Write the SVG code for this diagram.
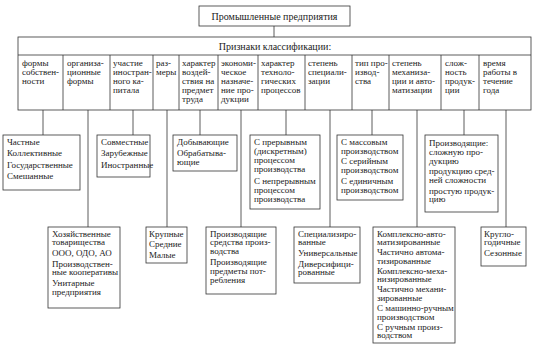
<svg xmlns="http://www.w3.org/2000/svg" width="535" height="353" viewBox="0 0 535 353">
<style>
.bx{fill:#fff;stroke:#333;stroke-width:0.8}
.ln{stroke:#333;stroke-width:0.8;fill:none}
text{font-family:"Liberation Serif","Times New Roman",serif;font-size:9px;fill:#222}
.t{font-size:10px}
</style>
<rect x="0" y="0" width="535" height="353" fill="#fff"/>
<g id="connectors">
<line class="ln" x1="274" y1="26" x2="274" y2="37"/>
<line class="ln" x1="43" y1="110" x2="43" y2="135"/>
<line class="ln" x1="88" y1="110" x2="88" y2="227"/>
<line class="ln" x1="133" y1="110" x2="133" y2="135"/>
<line class="ln" x1="167" y1="110" x2="167" y2="227"/>
<line class="ln" x1="200" y1="110" x2="200" y2="135"/>
<line class="ln" x1="241" y1="110" x2="241" y2="227"/>
<line class="ln" x1="286" y1="110" x2="286" y2="135"/>
<line class="ln" x1="330" y1="110" x2="330" y2="227"/>
<line class="ln" x1="372" y1="110" x2="372" y2="135"/>
<line class="ln" x1="417" y1="110" x2="417" y2="227"/>
<line class="ln" x1="464" y1="110" x2="464" y2="135"/>
<line class="ln" x1="506" y1="110" x2="506" y2="227"/>
</g>
<g id="root">
<rect class="bx" x="199" y="6" width="151" height="20"/>
<text class="t" x="274.5" y="19.5" text-anchor="middle">Промышленные предприятия</text>
</g>
<g id="criteria">
<rect class="bx" x="18" y="37" width="513" height="73"/>
<line class="ln" x1="18" y1="55" x2="531" y2="55"/>
<text class="t" x="275" y="49.5" text-anchor="middle">Признаки классификации:</text>
<g class="ln">
<line x1="63" y1="55" x2="63" y2="110"/>
<line x1="110" y1="55" x2="110" y2="110"/>
<line x1="153" y1="55" x2="153" y2="110"/>
<line x1="179" y1="55" x2="179" y2="110"/>
<line x1="218" y1="55" x2="218" y2="110"/>
<line x1="258" y1="55" x2="258" y2="110"/>
<line x1="305" y1="55" x2="305" y2="110"/>
<line x1="352" y1="55" x2="352" y2="110"/>
<line x1="389" y1="55" x2="389" y2="110"/>
<line x1="441" y1="55" x2="441" y2="110"/>
<line x1="479" y1="55" x2="479" y2="110"/>
</g>
<text><tspan x="22" y="65.5">формы</tspan><tspan x="22" y="74.5">собствен-</tspan><tspan x="22" y="83.5">ности</tspan></text>
<text><tspan x="67" y="65.5">организа-</tspan><tspan x="67" y="74.5">ционные</tspan><tspan x="67" y="83.5">формы</tspan></text>
<text><tspan x="113" y="65.5">участие</tspan><tspan x="113" y="74.5">иностран-</tspan><tspan x="113" y="83.5">ного ка-</tspan><tspan x="113" y="92.5">питала</tspan></text>
<text><tspan x="156" y="65.5">раз-</tspan><tspan x="156" y="74.5">меры</tspan></text>
<text><tspan x="182" y="65.5">характер</tspan><tspan x="182" y="74.5">воздей-</tspan><tspan x="182" y="83.5">ствия на</tspan><tspan x="182" y="92.5">предмет</tspan><tspan x="182" y="101.5">труда</tspan></text>
<text><tspan x="221" y="65.5">экономи-</tspan><tspan x="221" y="74.5">ческое</tspan><tspan x="221" y="83.5">назначе-</tspan><tspan x="221" y="92.5">ние про-</tspan><tspan x="221" y="101.5">дукции</tspan></text>
<text><tspan x="261" y="65.5">характер</tspan><tspan x="261" y="74.5">техноло-</tspan><tspan x="261" y="83.5">гических</tspan><tspan x="261" y="92.5">процессов</tspan></text>
<text><tspan x="308" y="65.5">степень</tspan><tspan x="308" y="74.5">специали-</tspan><tspan x="308" y="83.5">зации</tspan></text>
<text><tspan x="355" y="65.5">тип про-</tspan><tspan x="355" y="74.5">извод-</tspan><tspan x="355" y="83.5">ства</tspan></text>
<text><tspan x="392" y="65.5">степень</tspan><tspan x="392" y="74.5">механиза-</tspan><tspan x="392" y="83.5">ции и авто-</tspan><tspan x="392" y="92.5">матизации</tspan></text>
<text><tspan x="445" y="65.5">слож-</tspan><tspan x="445" y="74.5">ность</tspan><tspan x="445" y="83.5">продук-</tspan><tspan x="445" y="92.5">ции</tspan></text>
<text><tspan x="483" y="65.5">время</tspan><tspan x="483" y="74.5">работы в</tspan><tspan x="483" y="83.5">течение</tspan><tspan x="483" y="92.5">года</tspan></text>
</g>
<g id="ownership">
<rect class="bx" x="3" y="135" width="77" height="55"/>
<text><tspan x="7" y="145">Частные</tspan><tspan x="7" y="156.3">Коллективные</tspan><tspan x="7" y="167.6">Государственные</tspan><tspan x="7" y="178.9">Смешанные</tspan></text>
</g>
<g id="foreign-capital">
<rect class="bx" x="97" y="135" width="53" height="42"/>
<text><tspan x="101" y="145">Совместные</tspan><tspan x="101" y="156.3">Зарубежные</tspan><tspan x="101" y="167.6">Иностранные</tspan></text>
</g>
<g id="impact">
<rect class="bx" x="173" y="135" width="64" height="36"/>
<text><tspan x="177" y="145">Добывающие</tspan><tspan x="177" y="156">Обрабатыва-</tspan><tspan x="177" y="164.8">ющие</tspan></text>
</g>
<g id="process">
<rect class="bx" x="250" y="135" width="70" height="74"/>
<text><tspan x="254" y="144.5">С прерывным</tspan><tspan x="254" y="153.5">(дискретным)</tspan><tspan x="254" y="162.5">процессом</tspan><tspan x="254" y="171.5">производства</tspan><tspan x="254" y="183.5">С непрерывным</tspan><tspan x="254" y="192.5">процессом</tspan><tspan x="254" y="201.5">производства</tspan></text>
</g>
<g id="production-type">
<rect class="bx" x="337" y="135" width="66" height="65"/>
<text><tspan x="341" y="145">С массовым</tspan><tspan x="341" y="153.8">производством</tspan><tspan x="341" y="164.4">С серийным</tspan><tspan x="341" y="173.2">производством</tspan><tspan x="341" y="183.8">С единичным</tspan><tspan x="341" y="192.6">производством</tspan></text>
</g>
<g id="complexity">
<rect class="bx" x="425" y="135" width="73" height="77"/>
<text><tspan x="429" y="146">Производящие:</tspan><tspan x="429" y="154.8">сложную про-</tspan><tspan x="429" y="163.6">дукцию</tspan><tspan x="429" y="174.2">продукцию сред-</tspan><tspan x="429" y="183">ней сложности</tspan><tspan x="429" y="193.6">простую продук-</tspan><tspan x="429" y="202.4">цию</tspan></text>
</g>
<g id="org-forms">
<rect class="bx" x="48" y="227" width="72" height="81"/>
<text><tspan x="52" y="236.5">Хозяйственные</tspan><tspan x="52" y="245.3">товарищества</tspan><tspan x="52" y="255.9">ООО, ОДО, АО</tspan><tspan x="52" y="266.5">Производствен-</tspan><tspan x="52" y="275.3">ные кооперативы</tspan><tspan x="52" y="285.9">Унитарные</tspan><tspan x="52" y="294.7">предприятия</tspan></text>
</g>
<g id="size">
<rect class="bx" x="146" y="227" width="41" height="36"/>
<text><tspan x="149" y="236.5">Крупные</tspan><tspan x="149" y="247">Средние</tspan><tspan x="149" y="257.5">Малые</tspan></text>
</g>
<g id="purpose">
<rect class="bx" x="206" y="227" width="70" height="67"/>
<text><tspan x="210" y="236.5">Производящие</tspan><tspan x="210" y="245.3">средства произ-</tspan><tspan x="210" y="254.1">водства</tspan><tspan x="210" y="265.2">Производящие</tspan><tspan x="210" y="274">предметы пот-</tspan><tspan x="210" y="282.8">ребления</tspan></text>
</g>
<g id="specialization">
<rect class="bx" x="294" y="227" width="66" height="56"/>
<text><tspan x="298" y="236.5">Специализиро-</tspan><tspan x="298" y="245.3">ванные</tspan><tspan x="298" y="255.9">Универсальные</tspan><tspan x="298" y="266.5">Диверсифици-</tspan><tspan x="298" y="275.3">рованные</tspan></text>
</g>
<g id="mechanization">
<rect class="bx" x="373" y="227" width="82" height="116"/>
<text><tspan x="377" y="236.5">Комплексно-авто-</tspan><tspan x="377" y="245.1">матизированные</tspan><tspan x="377" y="255.1">Частично автома-</tspan><tspan x="377" y="263.7">тизированные</tspan><tspan x="377" y="273.7">Комплексно-меха-</tspan><tspan x="377" y="282.3">низированные</tspan><tspan x="377" y="292.3">Частично механи-</tspan><tspan x="377" y="300.9">зированные</tspan><tspan x="377" y="310.9">С машинно-ручным</tspan><tspan x="377" y="319.5">производством</tspan><tspan x="377" y="329.5">С ручным произ-</tspan><tspan x="377" y="338.1">водством</tspan></text>
</g>
<g id="seasonality">
<rect class="bx" x="481" y="227" width="45" height="39"/>
<text><tspan x="484" y="236.5">Кругло-</tspan><tspan x="484" y="245.3">годичные</tspan><tspan x="484" y="256">Сезонные</tspan></text>
</g>
</svg>
